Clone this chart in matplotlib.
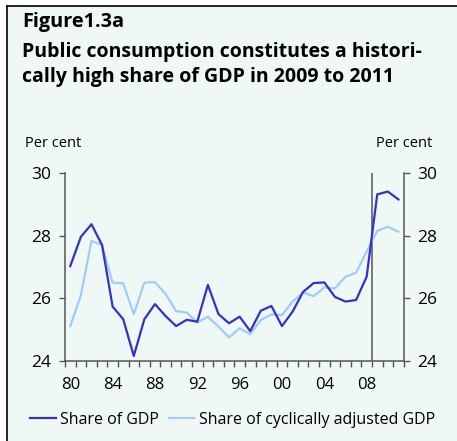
import numpy as np
import matplotlib
matplotlib.use('Agg')
import matplotlib.pyplot as plt
from matplotlib.lines import Line2D
from matplotlib.patches import Rectangle

plt.rcParams['font.family'] = ['Open Sans', 'DejaVu Sans']

years = list(range(1980, 2012))
gdp_share = [27.03, 27.96, 28.36, 27.7, 25.74, 25.34, 24.17, 25.34, 25.82, 25.44,
             25.12, 25.32, 25.26, 26.43, 25.5, 25.21, 25.42, 24.96, 25.61, 25.76,
             25.12, 25.58, 26.21, 26.49, 26.51, 26.05, 25.9, 25.95, 26.69, 29.31,
             29.4, 29.15]
adj_share = [25.12, 26.1, 27.83, 27.7, 26.5, 26.48, 25.5, 26.5, 26.52, 26.14,
             25.6, 25.55, 25.23, 25.42, 25.1, 24.76, 25.05, 24.86, 25.31, 25.49,
             25.47, 25.9, 26.19, 26.07, 26.35, 26.32, 26.69, 26.82, 27.49, 28.15,
             28.28, 28.12]
xlabels = ['80', '84', '88', '92', '96', '00', '04', '08']
yticks = [24, 26, 28, 30]

bg = '#f0f8f5'
dark = '#3431c8'
light = '#9fcdfb'
axis_col = '#555555'

W, H = 457, 441
fig = plt.figure(figsize=(W / 100, H / 100), dpi=100)
fig.patch.set_facecolor('white')

# mint panel with black frame lines on top and left
fig.add_artist(Rectangle((8 / W, 0), 1, 1 - 7 / H, transform=fig.transFigure,
                         facecolor=bg, edgecolor='none', zorder=0))
fig.add_artist(Line2D([7 / W, 1], [1 - 6 / H, 1 - 6 / H], transform=fig.transFigure,
                      color='black', lw=1.2))
fig.add_artist(Line2D([7 / W, 7 / W], [0, 1 - 6 / H], transform=fig.transFigure,
                      color='black', lw=1.2))

fig.text(22 / W, 1 - 26.7 / H, 'Figure1.3a', fontsize=14.3, fontweight='bold', va='baseline')
fig.text(22 / W, 1 - 57.3 / H, 'Public consumption constitutes a histori-',
         fontsize=14, fontweight='bold', va='baseline')
fig.text(22 / W, 1 - 81.7 / H, 'cally high share of GDP in 2009 to 2011',
         fontsize=14, fontweight='bold', va='baseline')
fig.text(25 / W, 1 - 147 / H, 'Per cent', fontsize=10.5, va='baseline')
fig.text(432 / W, 1 - 147 / H, 'Per cent', fontsize=10.5, va='baseline', ha='right')

ax = fig.add_axes([65 / W, 1 - 361.3 / H, (403.7 - 65) / W, (361.3 - 172.7) / H])
ax.set_facecolor('none')

x = np.array(years) + 0.5
ax.plot(x, gdp_share, color=dark, lw=1.6, label='Share of GDP', zorder=3)
ax.plot(x, adj_share, color=light, lw=1.6, label='Share of cyclically adjusted GDP', zorder=2)
ax.axvline(2009, color=axis_col, lw=1.1, zorder=1)

ax.set_xlim(1980, 2012)
ax.set_ylim(24, 30)
ax.set_yticks(yticks)
ax.set_xticks([1980.5 + 4 * i for i in range(len(xlabels))])
ax.set_xticklabels(xlabels)
ax.set_xticks(range(1980, 2013), minor=True)

ax.spines['top'].set_visible(False)
for s in ['left', 'right', 'bottom']:
    ax.spines[s].set_color(axis_col)
    ax.spines[s].set_linewidth(1.1)

ax.tick_params(axis='y', which='major', left=True, right=True, labelleft=True, labelright=True,
               length=4, width=1, color=axis_col, pad=6, labelsize=12.5)
ax.tick_params(axis='x', which='major', length=0, pad=11, labelsize=12)
ax.tick_params(axis='x', which='minor', length=4.5, width=1, color=axis_col)

ax.legend(loc='upper left', bbox_to_anchor=(-0.103, -0.267), ncol=2, frameon=False,
          fontsize=11.5, handlelength=1.6, handletextpad=0.3, columnspacing=0.6,
          borderaxespad=0, borderpad=0)

fig.savefig('out.png', dpi=100, facecolor=fig.get_facecolor())
